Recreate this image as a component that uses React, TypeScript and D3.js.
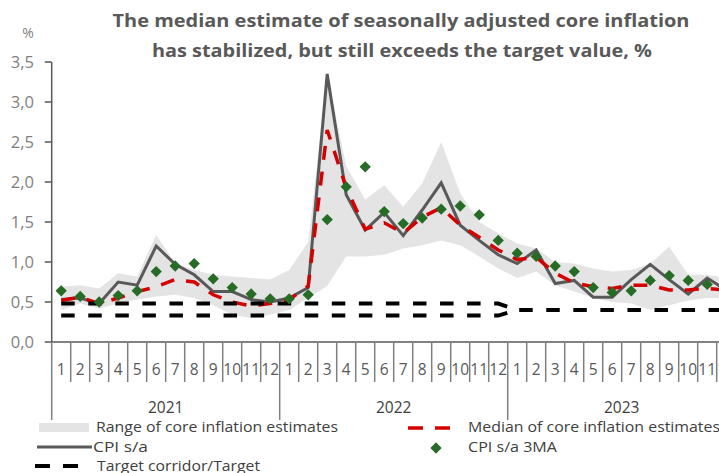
import React from "react";
import * as d3 from "d3";

const monthLabels = ["1","2","3","4","5","6","7","8","9","10","11","12","1","2","3","4","5","6","7","8","9","10","11","12","1","2","3","4","5","6","7","8","9","10","11","12"];
const yearLabels = ["2021", "2022", "2023"];
const yTicks = [0, 0.5, 1, 1.5, 2, 2.5, 3, 3.5];

const cpiSA = [0.53, 0.55, 0.48, 0.75, 0.71, 1.2, 0.97, 0.84, 0.63, 0.63, 0.53, 0.5,
  0.55, 0.68, 3.35, 1.84, 1.4, 1.62, 1.33, 1.65, 1.99, 1.46, 1.27, 1.09,
  0.98, 1.15, 0.73, 0.77, 0.56, 0.56, 0.78, 0.97, 0.78, 0.6, 0.8, 0.65];
const medianCore = [0.52, 0.56, 0.48, 0.55, 0.63, 0.69, 0.78, 0.75, 0.59, 0.5, 0.45, 0.48,
  0.53, 0.7, 2.65, 1.93, 1.41, 1.49, 1.36, 1.56, 1.68, 1.46, 1.31, 1.15,
  1.03, 1.06, 0.86, 0.74, 0.69, 0.67, 0.71, 0.71, 0.65, 0.65, 0.67, 0.65];
const cpi3MA = [0.64, 0.57, 0.5, 0.58, 0.64, 0.88, 0.95, 0.98, 0.79, 0.68, 0.6, 0.54,
  0.54, 0.59, 1.53, 1.94, 2.19, 1.63, 1.48, 1.55, 1.66, 1.7, 1.59, 1.27,
  1.11, 1.07, 0.95, 0.88, 0.68, 0.62, 0.64, 0.77, 0.83, 0.77, 0.72, 0.7];
const rangeHigh = [0.69, 0.71, 0.67, 0.86, 0.82, 1.34, 0.98, 0.9, 0.84, 0.82, 0.8, 0.78,
  0.9, 1.25, 3.35, 2.2, 1.78, 1.96, 1.69, 1.98, 2.5, 1.86, 1.5, 1.36,
  1.23, 1.17, 1.0, 0.98, 0.92, 0.88, 0.9, 0.98, 1.19, 0.84, 0.84, 0.8];
const rangeLow = [0.4, 0.48, 0.42, 0.48, 0.53, 0.57, 0.59, 0.55, 0.46, 0.34, 0.3, 0.34,
  0.4, 0.55, 0.7, 1.07, 1.07, 1.09, 1.17, 1.21, 1.27, 1.21, 1.07, 0.92,
  0.8, 0.88, 0.71, 0.63, 0.55, 0.5, 0.48, 0.4, 0.46, 0.52, 0.55, 0.55];
// corridor (2021-2022) converging to the target in Jan 2023
const corridorUpper = [0.48, 0.48, 0.48, 0.48, 0.48, 0.48, 0.48, 0.48, 0.48, 0.48, 0.48, 0.48,
  0.48, 0.48, 0.48, 0.48, 0.48, 0.48, 0.48, 0.48, 0.48, 0.48, 0.48, 0.48, 0.4];
const corridorLower = [0.33, 0.33, 0.33, 0.33, 0.33, 0.33, 0.33, 0.33, 0.33, 0.33, 0.33, 0.33,
  0.33, 0.33, 0.33, 0.33, 0.33, 0.33, 0.33, 0.33, 0.33, 0.33, 0.33, 0.33, 0.4];
const target2023 = [0.4, 0.4, 0.4, 0.4, 0.4, 0.4, 0.4, 0.4, 0.4, 0.4, 0.4, 0.4];

const titleLines = [
  "The median estimate of seasonally adjusted core inflation",
  "has stabilized, but still exceeds the target value, %",
];

const W = 719;
const H = 473;
const FONT = "'Open Sans', 'DejaVu Sans', sans-serif";

export default function App() {
  const x = d3.scaleLinear().domain([0, 36]).range([51.7, 51.7 + 36 * 19]);
  const y = d3.scaleLinear().domain([0, 3.5]).range([342, 62]);
  const cx = (i: number) => x(i + 0.5);

  const area = d3
    .area<number>()
    .x((_, i) => cx(i))
    .y0((_, i) => y(rangeLow[i]))
    .y1((d) => y(d));
  const line = d3
    .line<number>()
    .x((_, i) => cx(i))
    .y((d) => y(d));
  const lineOffset = (off: number) =>
    d3
      .line<number>()
      .x((_, i) => cx(i + off))
      .y((d) => y(d));

  const diamond = d3.symbol(d3.symbolSquare, 64)();

  const axisGray = "#7f7f7f";
  const textDark = "#404040";
  const dash = "13.5 13.56";

  return (
    <div style={{ position: "absolute", left: 0, top: 0, width: W, height: H, background: "#fff" }}>
      <svg width={W} height={H} style={{ display: "block", overflow: "hidden" }} fontFamily={FONT}>
        <rect x={0} y={0} width={W} height={H} fill="#fff" />
        {/* title */}
        <text x={401} y={27} textAnchor="middle" fontSize={17} fontWeight="bold" fill="#595959" textLength={577} lengthAdjust="spacingAndGlyphs">
          {titleLines[0]}
        </text>
        <text x={402} y={57} textAnchor="middle" fontSize={17} fontWeight="bold" fill="#595959" textLength={500} lengthAdjust="spacingAndGlyphs">
          {titleLines[1]}
        </text>
        <text x={28} y={38} textAnchor="middle" fontSize={14} fill={axisGray}>%</text>

        {/* range band */}
        <path d={area(rangeHigh) || ""} fill="#e4e4e4" />

        {/* y axis */}
        <line x1={x(0)} x2={x(0)} y1={y(3.5)} y2={y(0)} stroke="#595959" strokeWidth={1.5} />
        {yTicks.map((t) => (
          <g key={t}>
            <line x1={x(0) - 7} x2={x(0)} y1={y(t)} y2={y(t)} stroke="#595959" strokeWidth={1.5} />
            <text x={34} y={y(t)} dy="0.36em" textAnchor="end" fontSize={16.5} fill={axisGray}>
              {d3.format(".1f")(t).replace(".", ",")}
            </text>
          </g>
        ))}

        {/* CPI s/a */}
        <path d={line(cpiSA) || ""} fill="none" stroke="#595959" strokeWidth={3} strokeLinejoin="miter" />
        {/* median */}
        <path d={line(medianCore) || ""} fill="none" stroke="#d40000" strokeWidth={3.5} strokeDasharray="14 12" />
        {/* corridor / target */}
        <path d={line(corridorUpper) || ""} fill="none" stroke="#000" strokeWidth={4} strokeDasharray={dash} />
        <path d={line(corridorLower) || ""} fill="none" stroke="#000" strokeWidth={4} strokeDasharray={dash} />
        <path d={lineOffset(24)(target2023) || ""} fill="none" stroke="#000" strokeWidth={4} strokeDasharray={dash} strokeDashoffset={-2} />
        {/* 3MA diamonds */}
        {cpi3MA.map((v, i) => (
          <path key={i} d={diamond || ""} transform={`translate(${cx(i)},${y(v)}) rotate(45)`} fill="#266b26" />
        ))}

        {/* x axis */}
        <line x1={x(0)} x2={W} y1={y(0)} y2={y(0)} stroke="#595959" strokeWidth={1.5} />
        {d3.range(0, 37).map((i) => (
          <line key={i} x1={x(i)} x2={x(i)} y1={y(0)} y2={i % 12 === 0 ? 420 : 382} stroke={axisGray} strokeWidth={1.5} />
        ))}
        {monthLabels.map((m, i) => (
          <text key={i} x={cx(i)} y={375} textAnchor="middle" fontSize={15.5} fill="#595959">
            {m}
          </text>
        ))}
        {yearLabels.map((yl, k) => (
          <text key={yl} x={x(k * 12 + 6)} y={413} textAnchor="middle" fontSize={15.5} fill={textDark}>
            {yl}
          </text>
        ))}

        {/* legend */}
        <rect x={39} y={423} width={50} height={9} fill="#e4e4e4" />
        <text x={96} y={432} fontSize={14.5} fill={textDark} textLength={242} lengthAdjust="spacingAndGlyphs">Range of core inflation estimates</text>
        <line x1={37} x2={92} y1={447} y2={447} stroke="#595959" strokeWidth={3} />
        <text x={93} y={452} fontSize={14.5} fill={textDark} textLength={55} lengthAdjust="spacingAndGlyphs">CPI s/a</text>
        <line x1={35} x2={78} y1={466} y2={466} stroke="#000" strokeWidth={4} strokeDasharray="15 13" />
        <text x={97} y={471} fontSize={14.5} fill={textDark} textLength={163} lengthAdjust="spacingAndGlyphs">Target corridor/Target</text>

        <line x1={408} x2={451} y1={428} y2={428} stroke="#d40000" strokeWidth={3.5} strokeDasharray="15 12" />
        <text x={468} y={432} fontSize={14.5} fill={textDark} textLength={252} lengthAdjust="spacingAndGlyphs">Median of core inflation estimates</text>
        <path d={diamond || ""} transform={`translate(436,448) rotate(45)`} fill="#266b26" />
        <text x={468} y={452} fontSize={14.5} fill={textDark} textLength={89} lengthAdjust="spacingAndGlyphs">CPI s/a 3MA</text>
      </svg>
    </div>
  );
}
